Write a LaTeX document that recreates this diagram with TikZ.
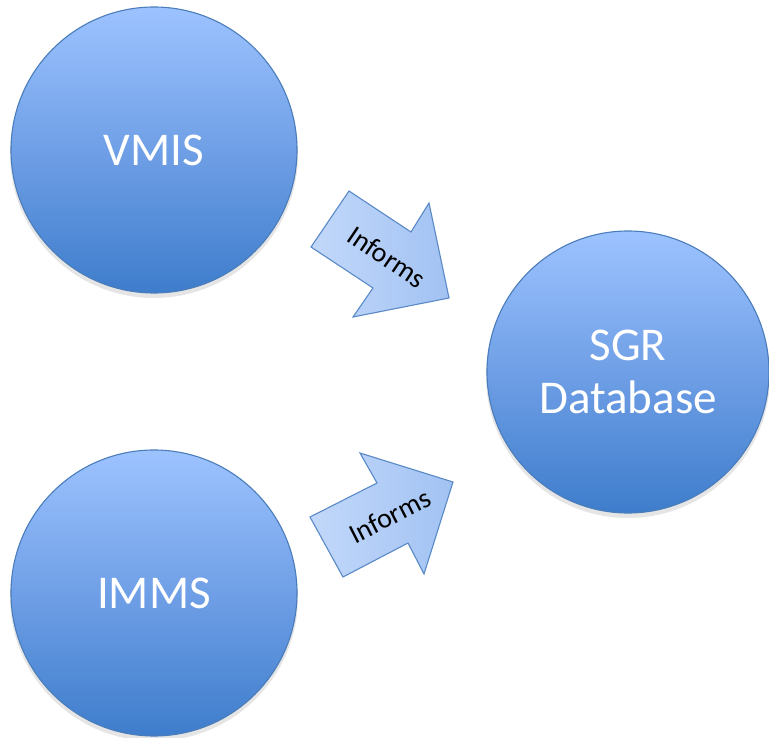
\documentclass[tikz,border=0pt]{standalone}
\usepackage{fontspec}
\setmainfont{Carlito}
\begin{document}
\begin{tikzpicture}[x=1pt,y=-1pt,
  bubble/.style={circle, inner sep=0pt, minimum size=286pt, draw=bubbleline, line width=1.1pt,
    top color=bubbletop, bottom color=bubblebot, middle color=bubblemid,
    text=white, font=\fontsize{47}{53}\selectfont, align=center},
  bubshadow/.style={fill=black, opacity=0.10},
  blockarrow/.style={draw=arrowline, line width=1.1pt, left color=arrowleft, right color=arrowright, line join=miter},
  arrowtext/.style={inner sep=0pt, font=\fontsize{28}{30}\selectfont, text=black}
]
\definecolor{bubbletop}{HTML}{9DC3FF}
\definecolor{bubblemid}{HTML}{6F9FE6}
\definecolor{bubblebot}{HTML}{3E7DCC}
\definecolor{bubbleline}{HTML}{4A7DBA}
\definecolor{arrowleft}{HTML}{C2D8FA}
\definecolor{arrowright}{HTML}{A2C2F3}
\definecolor{arrowline}{HTML}{5A8AC6}
\useasboundingbox (0,0) rectangle (769,738);
\fill[white] (0,0) rectangle (769,738);
% shadows
\fill[bubshadow] (154,154) circle (144pt);
\fill[bubshadow] (628,376) circle (142pt);
\fill[bubshadow] (154,597) circle (144pt);
% circles
\node[bubble] (vmis) at (154,150) {VMIS};
\node[bubble, minimum size=282pt] (sgr) at (628,372) {SGR\\Database};
\node[bubble] (imms) at (154,593) {IMMS};
% block arrows
\path[blockarrow] (349,191) -- (311,247) -- (373,288) -- (353,317) -- (449,298) -- (429,203) -- (411,232) -- cycle;
\node[arrowtext, rotate=-34] (inf1) at (387,257) {Informs};
\path[blockarrow] (310,517) -- (343,577) -- (408,543) -- (424,574) -- (453,482) -- (360,453) -- (377,483) -- cycle;
\node[arrowtext, rotate=27] (inf2) at (390,516) {Informs};
\end{tikzpicture}
\end{document}
